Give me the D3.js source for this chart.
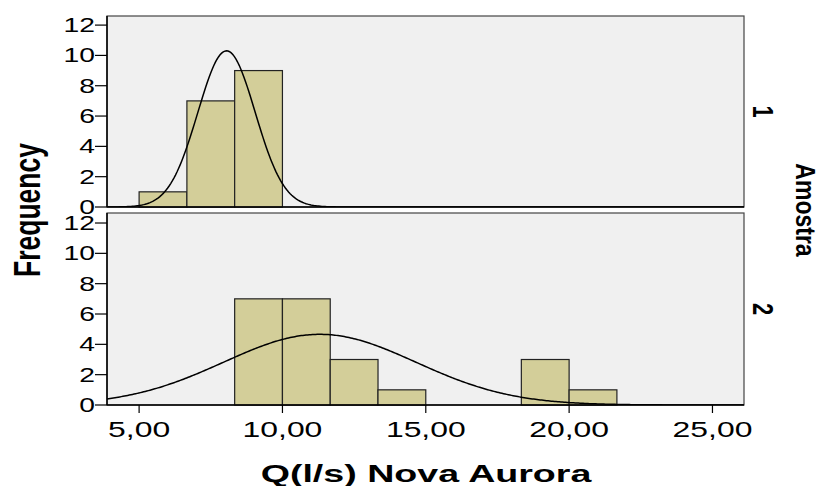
<!DOCTYPE html>
<html>
<head>
<meta charset="utf-8">
<script src="https://cdn.jsdelivr.net/npm/d3@7"></script>
<style>
  html, body { margin: 0; padding: 0; background: #ffffff; }
  svg { display: block; font-family: "Liberation Sans", Arial, sans-serif; }
</style>
</head>
<body>
<svg id="chart" width="823" height="486"></svg>
<script>
// ---- data ----
const panels = ["1", "2"];
const binWidth = 5 / 3;
const binStarts1 = [5.0, 6.667, 8.333];
const counts1 = [1, 7, 9];
const binStarts2 = [8.333, 10.0, 11.667, 13.333, 18.333, 20.0];
const counts2 = [7, 7, 3, 1, 3, 1];
// fitted normal curves: mean, sd, peak height
const curveMean = [8.05, 11.3];
const curveSd = [1.0, 3.35];
const curvePeak = [10.3, 4.66];
const xTicks = [5, 10, 15, 20, 25];
const yTicks = [0, 2, 4, 6, 8, 10, 12];
const xTitle = "Q(l/s) Nova Aurora";
const yTitle = "Frequency";
const panelTitle = "Amostra";

// ---- layout ----
const svg = d3.select("#chart");
const L = 107, R = 744;
const panelBoxes = [{ top: 16, bottom: 207, ymax: 12.6 }, { top: 213, bottom: 405, ymax: 12.66 }];
const x = d3.scaleLinear().domain([3.88, 26.1]).range([L, R]);
const fillBar = "#d3ce99";
const sx = 1.45;
const fmt = d => d.toFixed(2).replace(".", ",");

const binsData = [
  binStarts1.map((s, i) => ({ x0: s, x1: s + binWidth, n: counts1[i] })),
  binStarts2.map((s, i) => ({ x0: s, x1: s + binWidth, n: counts2[i] }))
];

panelBoxes.forEach((pb, pi) => {
  const y = d3.scaleLinear().domain([0, pb.ymax]).range([pb.bottom, pb.top]);
  const g = svg.append("g");
  g.append("rect")
    .attr("x", L).attr("y", pb.top).attr("width", R - L).attr("height", pb.bottom - pb.top)
    .attr("fill", "#f0f0f0").attr("stroke", "#444").attr("stroke-width", 1.2);

  const clipId = "clip" + pi;
  svg.append("clipPath").attr("id", clipId).append("rect")
    .attr("x", L).attr("y", pb.top).attr("width", R - L).attr("height", pb.bottom - pb.top);

  g.selectAll("rect.bar").data(binsData[pi]).enter().append("rect")
    .attr("class", "bar")
    .attr("x", d => x(d.x0)).attr("width", d => x(d.x1) - x(d.x0))
    .attr("y", d => y(d.n)).attr("height", d => y(0) - y(d.n))
    .attr("fill", fillBar).attr("stroke", "#222").attr("stroke-width", 1.2);

  // normal curve
  const dom = x.domain();
  const pts = d3.range(0, 401).map(i => {
    const v = dom[0] + (dom[1] - dom[0]) * i / 400;
    const z = (v - curveMean[pi]) / curveSd[pi];
    return [v, curvePeak[pi] * Math.exp(-0.5 * z * z)];
  });
  g.append("path")
    .attr("clip-path", `url(#${clipId})`)
    .attr("d", d3.line().x(d => x(d[0])).y(d => y(d[1]))(pts))
    .attr("fill", "none").attr("stroke", "#000").attr("stroke-width", 1.5);

  // left axis line and ticks
  g.append("line").attr("x1", L).attr("x2", L).attr("y1", pb.top).attr("y2", pb.bottom)
    .attr("stroke", "#000").attr("stroke-width", 1.5);
  g.append("line").attr("x1", L).attr("x2", R).attr("y1", pb.bottom).attr("y2", pb.bottom)
    .attr("stroke", "#000").attr("stroke-width", 1.5);
  yTicks.forEach(t => {
    g.append("line").attr("x1", L - 12).attr("x2", L).attr("y1", y(t)).attr("y2", y(t))
      .attr("stroke", "#000").attr("stroke-width", 1.2);
    g.append("g").attr("transform", `translate(${L - 12},${y(t) + 7}) scale(${sx},1)`)
      .append("text").attr("text-anchor", "end").attr("font-size", 19.5).attr("fill", "#000")
      .text(t);
  });

  // panel label
  g.append("g").attr("transform", `translate(${R + 9},${(pb.top + pb.bottom) / 2}) scale(1.35,1) rotate(90)`)
    .append("text").attr("text-anchor", "middle").attr("font-size", 22).attr("font-weight", "bold")
    .text(panels[pi]);

  if (pi === 1) {
    xTicks.forEach(t => {
      g.append("line").attr("x1", x(t)).attr("x2", x(t)).attr("y1", pb.bottom).attr("y2", pb.bottom + 8)
        .attr("stroke", "#000").attr("stroke-width", 1.2);
      g.append("g").attr("transform", `translate(${x(t)},${437}) scale(${sx},1)`)
        .append("text").attr("text-anchor", "middle").attr("font-size", 22).attr("fill", "#000")
        .text(fmt(t));
    });
  }
});

// axis titles
svg.append("g").attr("transform", `translate(${426},${482}) scale(1.6,1)`)
  .append("text").attr("text-anchor", "middle").attr("font-size", 23.5).attr("font-weight", "bold")
  .text(xTitle);

svg.append("g").attr("transform", `translate(${40},${210}) scale(1.4,1) rotate(-90)`)
  .append("text").attr("text-anchor", "middle").attr("font-size", 26.5).attr("font-weight", "bold")
  .text(yTitle);

svg.append("g").attr("transform", `translate(${796},${210}) scale(1.2,1) rotate(90)`)
  .append("text").attr("text-anchor", "middle").attr("font-size", 23).attr("font-weight", "bold")
  .text(panelTitle);
</script>
</body>
</html>
